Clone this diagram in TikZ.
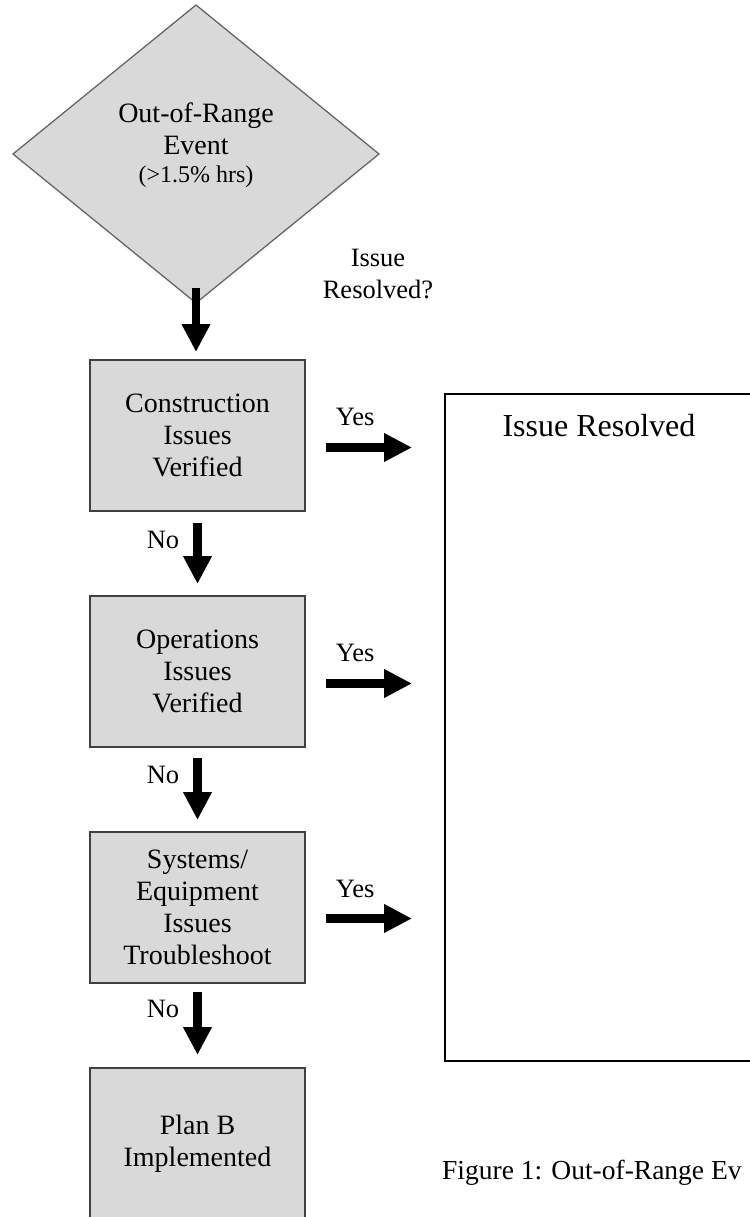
\documentclass[tikz,border=0pt]{standalone}
\usepackage{fontspec}
\setmainfont{Liberation Serif}
\usepackage{tikz}
\usetikzlibrary{
  arrows.meta,
  positioning,
  shapes.geometric
}
\definecolor{boxgray}{RGB}{217,217,217}
\definecolor{edgegray}{RGB}{64,64,64}
\newcommand{\boxfont}{\fontsize{28}{32}\selectfont}
\newcommand{\lblfont}{\fontsize{26.5}{32}\selectfont}
\newcommand{\bigfont}{\fontsize{32}{36}\selectfont}
\tikzset{
  stepbox/.style={draw=edgegray, line width=1.8pt, fill=boxgray,
    minimum width=215pt, minimum height=151pt, inner sep=0pt, outer sep=0pt,
    align=center, font=\boxfont},
  decisionbox/.style={diamond, draw=edgegray!80, line width=1.3pt, fill=boxgray,
    minimum width=366pt, minimum height=298pt, inner sep=0pt, outer sep=0pt},
  resultbox/.style={draw=black, line width=2pt,
    minimum width=330pt, minimum height=667pt, inner sep=0pt, outer sep=0pt},
  arr/.style={-{Triangle[length=28pt, width=27pt]}, line width=8.5pt},
  lbl/.style={inner sep=0pt, font=\lblfont},
}

\begin{document}
\begin{tikzpicture}[x=1pt, y=-1pt]
  \path[use as bounding box, fill=white] (0,0) rectangle (749,1217);

  % The triggering event
  \node[decisionbox] (event) at (196,154) {};
  \node[inner sep=0pt, align=center, font=\boxfont] (eventtext) at (196,145)
    {Out-of-Range\\Event\\[-4pt]{\fontsize{24}{28}\selectfont(>1.5\% hrs)}};
  \node[lbl, align=center] (question) at (378,274) {Issue\\Resolved?};

  % Checks, top to bottom
  \node[stepbox] (constr) at (197.5,435.5) {Construction\\Issues\\Verified};
  \node[stepbox, below=85pt of constr] (oper) {Operations\\Issues\\Verified};
  \node[stepbox, below=85pt of oper] (equip)
    {Systems/\\Equipment\\Issues\\Troubleshoot};
  \node[stepbox, below=85pt of equip] (planb) {Plan B\\Implemented};

  % Outcome box, running off the right edge
  \node[resultbox, label={[lbl, font=\bigfont, anchor=north, xshift=-11pt, yshift=-20pt]north:Issue Resolved}]
    (resolved) at (610,727.5) {};

  % Down arrows
  \draw[arr] ([yshift=15pt]event.south) -- ([yshift=8pt]event.south |- constr.north);
  \draw[arr] ([yshift=-12pt]constr.south) -- ([yshift=12pt]oper.north)
    node[lbl, pos=0.27, left=14pt] {No};
  \draw[arr] ([yshift=-11pt]oper.south) -- ([yshift=12pt]equip.north)
    node[lbl, pos=0.27, left=14pt] {No};
  \draw[arr] ([yshift=-9pt]equip.south) -- ([yshift=13pt]planb.north)
    node[lbl, pos=0.27, left=14pt] {No};

  % Yes arrows
  \draw[arr] ([xshift=21pt,yshift=-12pt]constr.east) -- ([xshift=-33pt,yshift=-12pt]constr.east -| resolved.west)
    node[lbl, pos=0.34, above=17pt] {Yes};
  \draw[arr] ([xshift=21pt,yshift=-12pt]oper.east) -- ([xshift=-33pt,yshift=-12pt]oper.east -| resolved.west)
    node[lbl, pos=0.34, above=17pt] {Yes};
  \draw[arr] ([xshift=21pt,yshift=-11pt]equip.east) -- ([xshift=-33pt,yshift=-11pt]equip.east -| resolved.west)
    node[lbl, pos=0.34, above=17pt] {Yes};

  % Caption
  \node[inner sep=0pt, anchor=west, font=\fontsize{27.5}{32}\selectfont] (caption) at (442,1173)
    {Figure 1: Out-of-Range Ev};
\end{tikzpicture}
\end{document}
